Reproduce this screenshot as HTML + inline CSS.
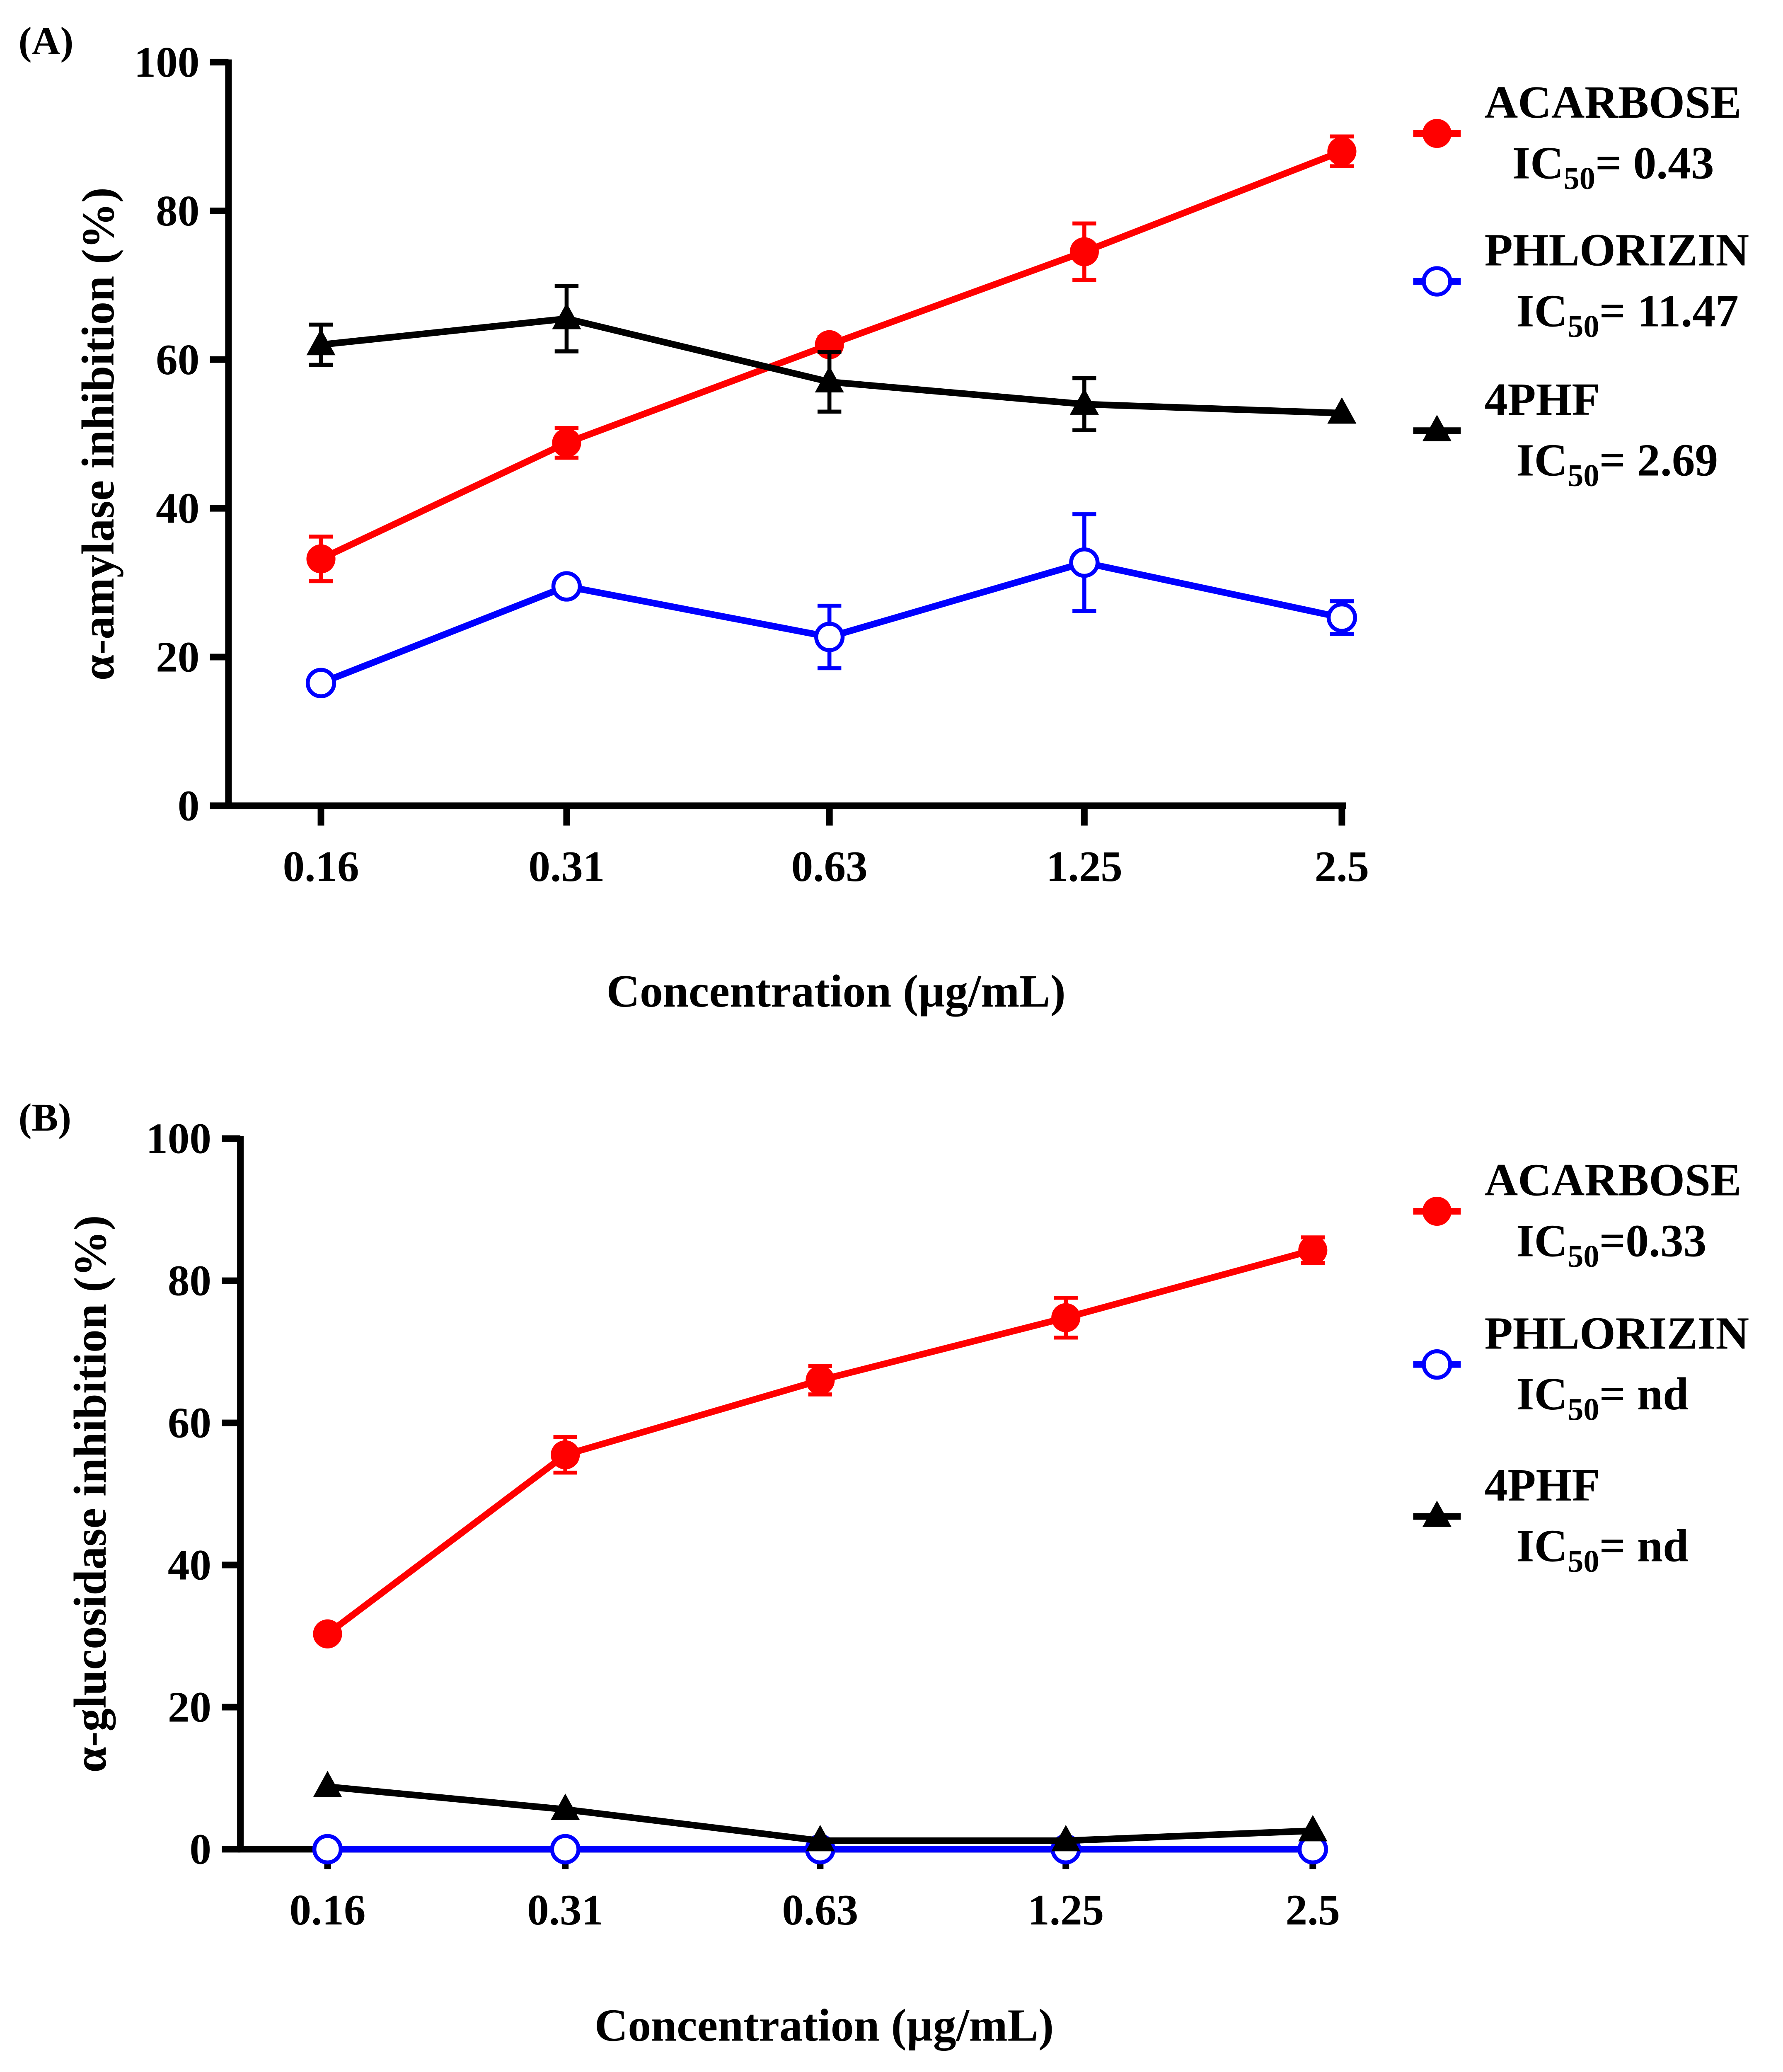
<!DOCTYPE html>
<html><head><meta charset="utf-8"><style>
html,body{margin:0;padding:0;background:#fff;overflow:hidden;width:4303px;height:5013px}
svg{display:block}
text{font-family:"Liberation Serif",serif;font-weight:bold;fill:#000}
</style></head><body>
<svg id="chart" width="4303" height="5013" viewBox="0 0 1350 1572.7" xmlns="http://www.w3.org/2000/svg"></svg>
<script>
const categories = ["0.16","0.31","0.63","1.25","2.5"];
const yTicks = [0,20,40,60,80,100];
// Panel A
const aAcarbose = [33.2,48.8,62,74.5,88];
const aAcarboseErr = [3,2,1,3.8,2];
const aPhlorizin = [16.5,29.5,22.7,32.7,25.3];
const aPhlorizinErr = [0.5,0.5,4.2,6.5,2.2];
const aPhf = [62,65.5,57,54,52.8];
const aPhfErr = [2.7,4.4,4,3.5,0.5];
// Panel B
const bAcarbose = [30.3,55.5,66,74.8,84.3];
const bAcarboseErr = [0.5,2.5,2,2.8,1.8];
const bPhlorizin = [0,0,0,0,0];
const bPhlorizinErr = [0,0,0,0,0];
const bPhf = [8.8,5.6,1.2,1.2,2.6];
const bPhfErr = [0,0,0,0,0];
const legendA = [["ACARBOSE","= 0.43"],["PHLORIZIN","= 11.47"],["4PHF","= 2.69"]];
const legendB = [["ACARBOSE","=0.33"],["PHLORIZIN","= nd"],["4PHF","= nd"]];

const svg = document.getElementById('chart');
const NS = "http://www.w3.org/2000/svg";
function el(tag, attrs, parent){
  const e = document.createElementNS(NS, tag);
  for (const k in attrs) e.setAttribute(k, attrs[k]);
  (parent||svg).appendChild(e);
  return e;
}

function panel(cfg){
  const g = el('g', {});
  
  
  const ys = v => cfg.y0 - (v/100)*(cfg.y0-cfg.y100);
  const xs = i => cfg.xpos[0] + i*(cfg.xpos[1]-cfg.xpos[0])/(categories.length-1) + cfg.xoff[i];
  const ya = el('line',{x1:cfg.ax,y1:cfg.y100-2,x2:cfg.ax,y2:cfg.y0+2,stroke:'#000','stroke-width':5},g);
   
  const xa = el('line',{x1:cfg.ax-2,y1:cfg.y0,x2:cfg.xend,y2:cfg.y0,stroke:'#000','stroke-width':5},g);
   
  yTicks.forEach(t=>{
    const y = ys(t);
    el('line',{x1:cfg.ax-14,y1:y,x2:cfg.ax,y2:y,stroke:'#000','stroke-width':5},g);
    const tx = el('text',{x:cfg.ax-22,y:y+11,'text-anchor':'end','font-size':33},g);
    tx.textContent = t;
    
    
  });
  categories.forEach((c,i)=>{
    const x = xs(i);
    el('line',{x1:x,y1:cfg.y0,x2:x,y2:cfg.y0+15,stroke:'#000','stroke-width':5},g);
    const tx = el('text',{x:x,y:cfg.y0+57,'text-anchor':'middle','font-size':33},g);
    tx.textContent = c;
    
    
  });
  const xt = el('text',{x:cfg.xtx,y:cfg.xty,'text-anchor':'middle','font-size':35},g);
  xt.textContent = 'Concentration (µg/mL)';
  
  
  const cy = (cfg.y0+cfg.y100)/2;
  const yt = el('text',{x:0,y:0,'text-anchor':'middle','font-size':35,transform:`translate(${cfg.ytx},${cy}) rotate(-90)`},g);
  yt.textContent = cfg.ytitle;
  
  
  const pl = el('text',{x:14,y:cfg.y100-6,'font-size':30},g);
  pl.textContent = cfg.label;
  
  

  function series(vals, errs, color, marker, name){
    const sg = el('g',{},g);
    
    
    const pts = vals.map((v,i)=>xs(i)+','+ys(v)).join(' ');
    el('polyline',{points:pts,fill:'none',stroke:color,'stroke-width':5,'stroke-linejoin':'round'},sg);
    vals.forEach((v,i)=>{
      const x=xs(i), y=ys(v), e=errs[i];
      if (e>0.6){
        el('line',{x1:x,y1:ys(v+e),x2:x,y2:ys(v-e),stroke:color,'stroke-width':3},sg);
        el('line',{x1:x-9,y1:ys(v+e),x2:x+9,y2:ys(v+e),stroke:color,'stroke-width':3},sg);
        el('line',{x1:x-9,y1:ys(v-e),x2:x+9,y2:ys(v-e),stroke:color,'stroke-width':3},sg);
      }
      drawMarker(sg,marker,x,y,color,name+'-point');
    });
  }
  series(cfg.s[0],cfg.e[0],'#ff0000','dot','acarbose');
  series(cfg.s[1],cfg.e[1],'#0000ff','ring','phlorizin');
  series(cfg.s[2],cfg.e[2],'#000000','tri','4phf');

  const markers=[['dot','#ff0000'],['ring','#0000ff'],['tri','#000000']];
  cfg.legend.forEach((l,i)=>{
    const lg = el('g',{},g);
    
    
    const my = cfg.legY[i];
    el('line',{x1:1070,y1:my,x2:1106,y2:my,stroke:markers[i][1],'stroke-width':5},lg);
    drawMarker(lg,markers[i][0],1088,my,markers[i][1],'legend-marker');
    const t1 = el('text',{x:1124,y:my-12,'font-size':35},lg);
    t1.textContent = l[0];
    const t2 = el('text',{x:i==0?cfg.icx0:1148,y:my+34,'font-size':35},lg);
    t2.innerHTML = 'IC<tspan font-size="24" dy="8">50</tspan><tspan dy="-8">'+l[1]+'</tspan>';
  });
}
function drawMarker(parent,type,x,y,color,name){
  let m;
  if(type==='dot') m=el('circle',{cx:x,cy:y,r:11,fill:color},parent);
  else if(type==='ring') m=el('circle',{cx:x,cy:y,r:10,fill:'#fff',stroke:color,'stroke-width':3},parent);
  else m=el('polygon',{points:`${x},${y-12} ${x+11},${y+8} ${x-11},${y+8}`,fill:color},parent);
  
  
}

panel({name:'panel-a',label:'(A)',ax:173,y100:47,y0:610,xend:1019,xpos:[243,1016],xoff:[0,-7.25,-1.5,-1.75,0],
  xtx:633,xty:762,ytx:86,ytitle:'α-amylase inhibition (%)',
  s:[aAcarbose,aPhlorizin,aPhf],e:[aAcarboseErr,aPhlorizinErr,aPhfErr],
  legend:legendA,legY:[101,213,326],icx0:1145});
panel({name:'panel-b',label:'(B)',ax:182,y100:862,y0:1400,xend:997,xpos:[248,994],xoff:[0,-6.5,0,-0.5,0],
  xtx:624,xty:1545,ytx:80,ytitle:'α-glucosidase inhibition (%)',
  s:[bAcarbose,bPhlorizin,bPhf],e:[bAcarboseErr,bPhlorizinErr,bPhfErr],
  legend:legendB,legY:[917,1033,1148],icx0:1148});
</script>
</body></html>
